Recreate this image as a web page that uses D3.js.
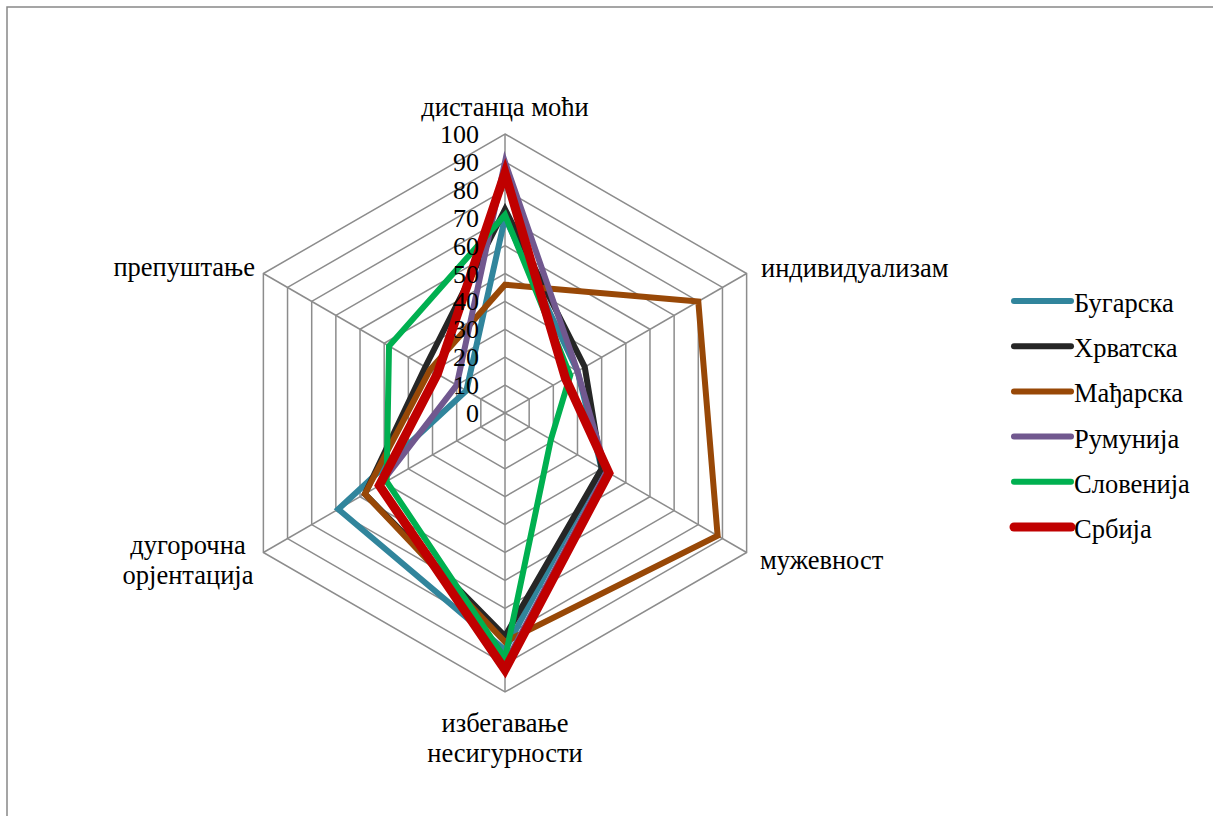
<!DOCTYPE html>
<html>
<head>
<meta charset="utf-8">
<script src="https://cdn.jsdelivr.net/npm/d3@7"></script>
<style>
body { margin: 0; background: #fff; }
</style>
</head>
<body>
<svg id="graph"></svg>
<script>
var axesNames = [["дистанца моћи"], ["индивидуализам"], ["мужевност"], ["избегавање", "несигурности"], ["дугорочна", "орјентација"], ["препуштање"]];
var ticks = [0, 10, 20, 30, 40, 50, 60, 70, 80, 90, 100];
var countries = ["Бугарска", "Хрватска", "Мађарска", "Румунија", "Словенија", "Србија"];
var colors = ["#31859C", "#262626", "#984807", "#71588F", "#00B050", "#C00000"];
var bugarska = [70, 30, 40, 85, 69, 16];
var hrvatska = [73, 33, 40, 80, 58, 33];
var madjarska = [46, 80, 88, 82, 58, 31];
var rumunija = [90, 30, 42, 90, 52, 20];
var slovenija = [71, 27, 19, 88, 49, 48];
var srbija = [86, 25, 43, 92, 52, 28];
var seriesValues = [bugarska, hrvatska, madjarska, rumunija, slovenija, srbija];

var screen = {width: 1213, height: 816};
var center = {x: 505, y: 413};
var font = "'Liberation Serif'";

var svg = d3.select("#graph")
    .attr("width", screen.width)
    .attr("height", screen.height);

// frame
svg.append("rect")
    .attr("x", 7).attr("y", 7)
    .attr("width", 1220).attr("height", 830)
    .attr("fill", "none")
    .attr("stroke", "#888")
    .attr("stroke-width", 1.5);

var rScale = d3.scaleLinear().domain([0, 100]).range([0, 279]);
var angle = function(i) { return i * 2 * Math.PI / axesNames.length; };

var chart = svg.append("g")
    .attr("transform", "translate(" + center.x + "," + center.y + ")");

// grid hexagons
var gridLine = d3.lineRadial()
    .angle(function(d, i) { return angle(i); })
    .radius(function(d) { return rScale(d); })
    .curve(d3.curveLinearClosed);

chart.selectAll(".ring")
    .data(ticks.slice(1))
    .enter()
    .append("path")
    .attr("d", function(t) { return gridLine(axesNames.map(function() { return t; })); })
    .attr("fill", "none")
    .attr("stroke", "#8c8c8c")
    .attr("stroke-width", 1.5);

// spokes
chart.selectAll(".spoke")
    .data(axesNames)
    .enter()
    .append("line")
    .attr("x1", 0).attr("y1", 0)
    .attr("x2", function(d, i) { return rScale(100) * Math.sin(angle(i)); })
    .attr("y2", function(d, i) { return -rScale(100) * Math.cos(angle(i)); })
    .attr("stroke", "#8c8c8c")
    .attr("stroke-width", 1.5);

// series
var seriesLine = d3.lineRadial()
    .angle(function(d, i) { return angle(i); })
    .radius(function(d) { return rScale(d); })
    .curve(d3.curveLinearClosed);

chart.selectAll(".series")
    .data(seriesValues)
    .enter()
    .append("path")
    .attr("d", function(d) { return seriesLine(d); })
    .attr("fill", "none")
    .attr("stroke", function(d, i) { return colors[i]; })
    .attr("stroke-width", function(d, i) { return i == 5 ? 9 : 6; })
    .attr("stroke-linejoin", "miter");

// tick labels
chart.selectAll(".tick")
    .data(ticks)
    .enter()
    .append("text")
    .text(function(t) { return t; })
    .attr("x", -26)
    .attr("y", function(t) { return -rScale(t) + 9; })
    .attr("text-anchor", "end")
    .style("font-family", font)
    .style("font-size", "26px");

// category labels
var labelPos = [
    {x: 0, y: -297, anchor: "middle"},
    {x: 256, y: -136, anchor: "start"},
    {x: 255, y: 156, anchor: "start"},
    {x: 0, y: 319, anchor: "middle"},
    {x: -317, y: 141, anchor: "middle"},
    {x: -250, y: -137, anchor: "end"}
];

var labels = chart.selectAll(".cat")
    .data(axesNames)
    .enter()
    .append("text")
    .attr("text-anchor", function(d, i) { return labelPos[i].anchor; })
    .style("font-family", font)
    .style("font-size", "26.5px");

labels.selectAll("tspan")
    .data(function(d, i) { return d.map(function(s, j) { return {s: s, i: i, j: j}; }); })
    .enter()
    .append("tspan")
    .text(function(d) { return d.s; })
    .attr("x", function(d) { return labelPos[d.i].x; })
    .attr("y", function(d) { return labelPos[d.i].y + d.j * 30; });

// legend
var legend = svg.append("g")
    .attr("transform", "translate(1014,301)");

var entries = legend.selectAll("g")
    .data(countries)
    .enter()
    .append("g")
    .attr("transform", function(d, i) { return "translate(0," + (i * 45.2) + ")"; });

entries.append("line")
    .attr("x1", 0).attr("x2", 57)
    .attr("stroke", function(d, i) { return colors[i]; })
    .attr("stroke-width", function(d, i) { return i == 5 ? 9 : 6; })
    .attr("stroke-linecap", "round");

entries.append("text")
    .text(function(d) { return d; })
    .attr("x", 60)
    .attr("y", 11)
    .style("font-family", font)
    .style("font-size", "26.5px");
</script>
</body>
</html>
